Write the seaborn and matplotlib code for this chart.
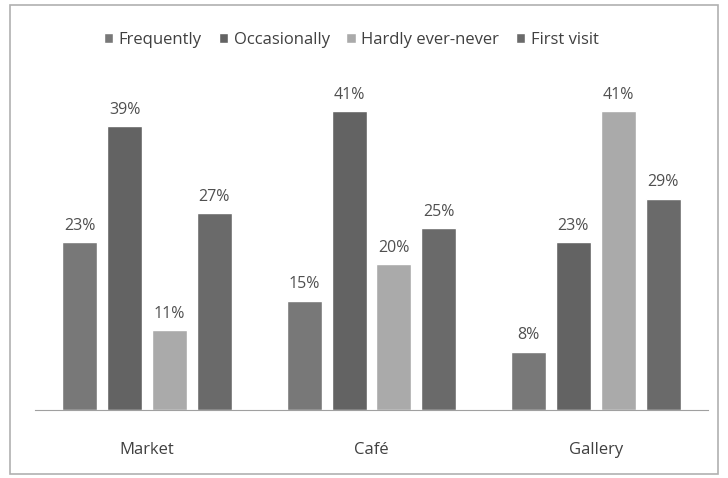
import pandas as pd
import numpy as np
import matplotlib.pyplot as plt
import matplotlib.patches as mpatches
import seaborn as sns

# Data
places = ['Market', 'Café', 'Gallery']
series = ['Frequently', 'Occasionally', 'Hardly ever-never', 'First visit']
frequently = [23, 15, 8]
occasionally = [39, 41, 23]
hardly = [11, 20, 41]
first_visit = [27, 25, 29]

rows = []
for name, vals in zip(series, [frequently, occasionally, hardly, first_visit]):
    for p, v in zip(places, vals):
        rows.append({'Place': p, 'Visit': name, 'Share': v})
df = pd.DataFrame(rows)

colours = {'Frequently': '#787878', 'Occasionally': '#636363',
           'Hardly ever-never': '#aaaaaa', 'First visit': '#6a6a6a'}

sns.set_style('white')
plt.rcParams['font.family'] = ['Open Sans', 'DejaVu Sans']

fig = plt.figure(figsize=(7.28, 4.78), dpi=100)
ax = fig.add_axes([0.048, 0.142, 0.9245, 0.732])

sns.barplot(data=df, x='Place', y='Share', hue='Visit', hue_order=series,
            palette=colours, width=0.8, gap=0.22, ax=ax, saturation=1)

for c in ax.containers:
    ax.bar_label(c, labels=[f'{v:.0f}%' for v in c.datavalues], padding=6,
                 fontsize=11.5, color='#505050')

ax.set_ylim(0, 48)
ax.set_xlim(-0.5, 2.5)
ax.set_yticks([])
ax.set_xlabel('')
ax.set_ylabel('')
ax.tick_params(axis='x', length=0, pad=23, labelsize=12, labelcolor='#404040')
for s in ['top', 'right', 'left']:
    ax.spines[s].set_visible(False)
ax.spines['bottom'].set_color('#a0a0a0')

ax.legend(loc='center', bbox_to_anchor=(0.47, 1.057), ncol=4, frameon=False,
          fontsize=12, handlelength=0.55, handleheight=0.55, handletextpad=0.35,
          columnspacing=1.0, labelcolor='#404040')

# outer chart border
fig.patches.append(mpatches.Rectangle((0.014, 0.008), 0.972, 0.982,
                   transform=fig.transFigure, fill=False,
                   edgecolor='#b0b0b0', linewidth=1.2))

fig.savefig('out.png', dpi=100, facecolor='white')
